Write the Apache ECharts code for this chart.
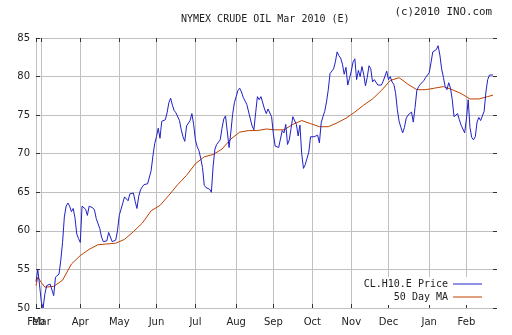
<!DOCTYPE html>
<html>
<head>
<meta charset="utf-8">
<script src="https://cdn.jsdelivr.net/npm/echarts@6/dist/echarts.min.js"></script>
<style>
  html, body { margin: 0; padding: 0; background: #fff; }
  #chart { width: 512px; height: 335px; }
</style>
</head>
<body>
<div id="chart"></div>
<script>
// Daily settlement prices, one per weekday from late Feb 2009 to Feb 19 2010
const price = [
  53.4, 55.0, 53.0, 50.8, 50.0, 51.8, 52.9, 52.9, 53.1, 52.9,
  51.6, 54.0, 54.0, 54.4, 56.2, 58.5, 61.8, 63.2, 63.6, 63.2,
  62.5, 62.9, 61.7, 59.6, 59.0, 58.5, 63.2, 63.3, 62.8, 62.0,
  63.2, 63.2, 63.0, 62.7, 61.6, 61.6, 60.3, 59.2, 58.6, 58.5,
  58.7, 59.8, 59.2, 58.6, 58.4, 58.8, 60.0, 62.0, 62.8, 63.6,
  64.4, 64.3, 63.9, 64.8, 65.0, 64.9, 63.8, 62.9, 64.5, 65.3,
  65.7, 66.0, 66.1, 66.1, 66.1, 67.8, 69.7, 71.3, 72.2, 73.3,
  72.0, 74.2, 74.35, 74.4, 75.3, 76.6, 77.2, 76.3, 75.6, 75.3,
  75.4, 74.3, 73.1, 72.2, 71.6, 73.6, 73.4, 74.3, 75.2, 73.8,
  71.8, 70.9, 70.4, 69.4, 68.2, 65.9, 65.6, 65.5, 65.4, 65.0,
  68.4, 70.6, 71.2, 71.4, 71.8, 73.3, 74.5, 74.9, 74.8, 70.8,
  72.8, 75.1, 76.6, 77.4, 78.2, 78.5, 78.0, 77.3, 77.3, 76.4,
  76.6, 74.5, 73.6, 73.1, 75.3, 77.4, 77.0, 77.4, 77.6, 75.8,
  75.2, 75.8, 76.0, 74.8, 72.6, 71.0, 70.8, 70.8, 70.8, 73.0,
  72.7, 73.8, 71.2, 71.8, 73.3, 74.8, 74.6, 73.8, 72.3, 73.7,
  70.0, 68.1, 68.6, 68.7, 70.2, 72.2, 72.1, 72.2, 72.1, 72.4,
  71.4, 74.0, 74.8, 75.5, 76.7, 78.3, 80.4, 80.6, 81.0, 81.9,
  83.2, 82.7, 82.4, 81.6, 80.3, 81.2, 78.9, 79.8, 80.7, 81.9,
  82.3, 79.6, 80.8, 80.0, 81.3, 80.3, 78.8, 79.9, 81.4, 81.0,
  79.3, 79.6, 79.6, 78.9, 79.1, 78.9, 79.4, 79.2, 80.7, 79.6,
  80.0, 79.3, 79.0, 77.9, 75.7, 74.2, 73.4, 72.7, 73.4, 74.6,
  75.0, 75.2, 75.4, 74.1, 76.0, 78.2, 78.7, 79.0, 79.2, 79.5,
  79.9, 80.2, 80.5, 81.8, 83.2, 83.4, 83.5, 84.0, 82.8, 81.0,
  79.9, 78.7, 78.3, 79.2, 78.5, 77.0, 74.8, 74.8, 75.2, 74.4,
  73.7, 73.2, 72.7, 74.5, 77.0, 73.4, 72.1, 71.8, 72.2, 74.1,
  74.7, 74.3, 74.3, 75.5, 78.0, 79.6, 80.2, 80.4, 80.2
];

// 50-day moving average, sampled roughly weekly: [day index, value]
const movingAvg = [
  [0, 52.9], [1, 54.0], [3, 53.3], [5, 52.7], [10, 52.8], [15, 53.6],
  [20, 55.7], [25, 56.8], [30, 57.6], [35, 58.2], [40, 58.3], [45, 58.4],
  [50, 58.9], [55, 59.9], [60, 61.0], [65, 62.6], [70, 63.3], [75, 64.6],
  [80, 66.0], [85, 67.2], [90, 68.7], [95, 69.6], [100, 69.9], [105, 70.6],
  [110, 71.9], [115, 72.8], [120, 73.0], [125, 73.0], [130, 73.2], [135, 73.1],
  [140, 73.1], [145, 73.8], [150, 74.3], [155, 73.9], [160, 73.5], [165, 73.5],
  [170, 74.0], [175, 74.6], [180, 75.4], [185, 76.3], [190, 77.1], [195, 78.2],
  [200, 79.5], [205, 79.85], [210, 79.0], [215, 78.3], [220, 78.3], [225, 78.5],
  [230, 78.7], [235, 78.3], [240, 77.8], [245, 77.1], [250, 77.1], [255, 77.4],
  [258, 77.6]
];

// First trading day of each month (day index) and its label
const monthStarts = [0, 3, 25, 47, 68, 90, 113, 134, 156, 178, 199, 222, 243];
const monthLabels = ['Feb', 'Mar', 'Apr', 'May', 'Jun', 'Jul', 'Aug', 'Sep', 'Oct', 'Nov', 'Dec', 'Jan', 'Feb'];

const yTicks = { min: 50, max: 85, step: 5 };

const days = price.map((_, i) => String(i));
const isMonthStart = (i) => monthStarts.indexOf(i) !== -1;
const monthLabel = (v) => monthLabels[monthStarts.indexOf(Number(v))];

const GRID = '#c0c0c0';
const TICK = '#333';
const MONO = '"DejaVu Sans Mono", monospace';
const SANS = '"DejaVu Sans", sans-serif';
const labelFont = { fontFamily: SANS, fontSize: 10, color: '#222', margin: 9 };

const chart = echarts.init(document.getElementById('chart'), null, { renderer: 'canvas' });

chart.setOption({
  animation: false,
  backgroundColor: '#fff',
  title: [
    {
      text: 'NYMEX CRUDE OIL Mar 2010 (E)',
      left: 176, top: 9,
      textStyle: { fontFamily: MONO, fontSize: 10, fontWeight: 'normal', color: '#222' }
    },
    {
      text: '(c)2010 INO.com',
      right: 15, top: 2,
      textStyle: { fontFamily: MONO, fontSize: 10.8, fontWeight: 'normal', color: '#222' }
    }
  ],
  legend: {
    orient: 'vertical',
    right: 19, top: 277,
    align: 'right',
    icon: 'rect',
    itemWidth: 29, itemHeight: 1,
    itemGap: 3,
    padding: [2, 11, 3, 4],
    backgroundColor: '#fff',
    textStyle: { fontFamily: MONO, fontSize: 10, color: '#222', lineHeight: 10 },
    data: ['CL.H10.E Price', '50 Day MA']
  },
  grid: { left: 36, top: 38, width: 457, height: 270, containLabel: false },
  xAxis: [
    {
      // main month axis: ticks, gridlines and labels from March on
      type: 'category', data: days, boundaryGap: false, position: 'bottom',
      axisLine: { lineStyle: { color: GRID } },
      axisTick: { inside: true, length: 4, interval: (i) => isMonthStart(i), lineStyle: { color: TICK } },
      axisLabel: Object.assign({
        interval: (i) => i > 0 && isMonthStart(i),
        formatter: monthLabel
      }, labelFont),
      splitLine: { show: true, interval: (i) => i > 0 && isMonthStart(i), lineStyle: { color: GRID } }
    },
    {
      type: 'category', data: days, boundaryGap: false, position: 'top',
      axisLine: { lineStyle: { color: GRID } },
      axisTick: { inside: true, length: 4, interval: (i) => isMonthStart(i), lineStyle: { color: TICK } },
      axisLabel: { show: false },
      splitLine: { show: false }
    },
    {
      // label for the partial first month at the left edge
      type: 'category', data: days, boundaryGap: false, position: 'bottom',
      axisLine: { show: false },
      axisTick: { show: false },
      axisLabel: Object.assign({
        interval: (i) => i === 0,
        showMinLabel: true,
        showMaxLabel: false,
        formatter: monthLabel
      }, labelFont),
      splitLine: { show: false }
    }
  ],
  yAxis: [
    {
      type: 'value', min: yTicks.min, max: yTicks.max, interval: yTicks.step, position: 'left',
      axisLine: { show: true, lineStyle: { color: GRID } },
      axisTick: { show: true, inside: true, length: 4, lineStyle: { color: TICK } },
      axisLabel: { fontFamily: SANS, fontSize: 10, color: '#222', margin: 6 },
      splitLine: { show: true, lineStyle: { color: GRID } }
    },
    {
      type: 'value', min: yTicks.min, max: yTicks.max, interval: yTicks.step, position: 'right',
      axisLine: { show: false },
      axisTick: { show: true, inside: false, length: 4, lineStyle: { color: TICK } },
      axisLabel: { show: false },
      splitLine: { show: false }
    }
  ],
  series: [
    {
      name: 'CL.H10.E Price', type: 'line', data: price,
      xAxisIndex: 0, yAxisIndex: 0,
      showSymbol: false, symbol: 'none',
      lineStyle: { color: '#2020c8', width: 1 },
      itemStyle: { color: '#2020c8' },
      z: 3
    },
    {
      name: '50 Day MA', type: 'line', data: movingAvg,
      xAxisIndex: 0, yAxisIndex: 0,
      showSymbol: false, symbol: 'none',
      lineStyle: { color: '#c04000', width: 1 },
      itemStyle: { color: '#c04000' },
      z: 2
    }
  ]
});
</script>
</body>
</html>
